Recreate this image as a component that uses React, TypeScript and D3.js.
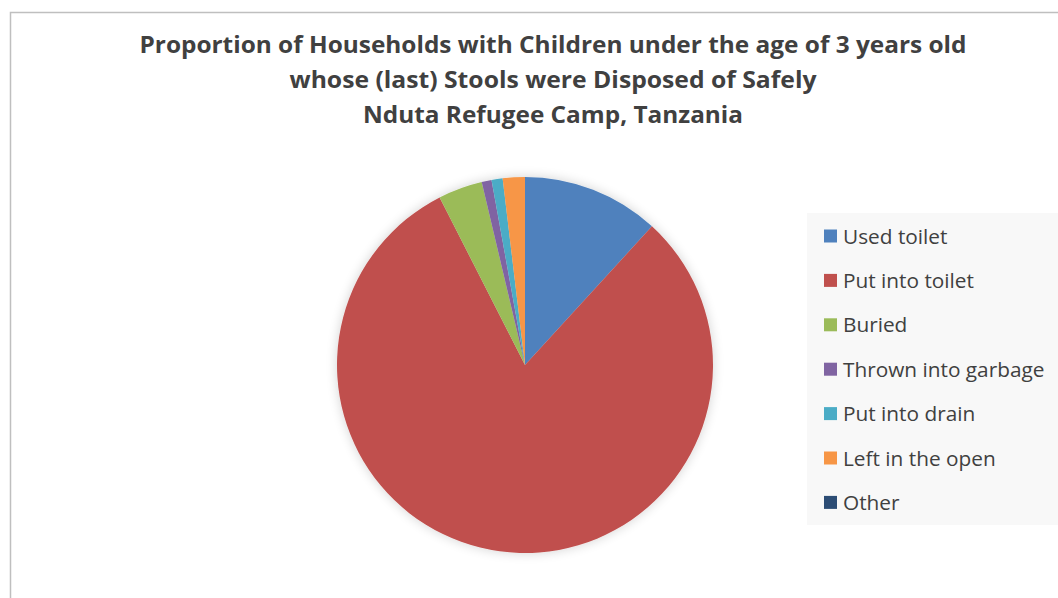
import React from "react";
import * as d3 from "d3";

const categories = [
  "Used toilet",
  "Put into toilet",
  "Buried",
  "Thrown into garbage",
  "Put into drain",
  "Left in the open",
  "Other",
];
const values = [11.8, 80.7, 3.8, 0.85, 0.95, 1.9, 0];
const colors = ["#4f81bd", "#c0504d", "#9bbb59", "#8064a2", "#4bacc6", "#f79646", "#2c4d75"];
const titleLines = [
  "Proportion of Households with Children under the age of 3 years old",
  "whose (last) Stools were Disposed of Safely",
  "Nduta Refugee Camp, Tanzania",
];
const titleWidths = [827, 527, 380];

export default function App() {
  const W = 1058;
  const H = 598;
  const cx = 525;
  const cy = 365;
  const r = 188;
  const pie = d3.pie<number>().sort(null).value((d) => d)(values);
  const arc = d3.arc<d3.PieArcDatum<number>>().innerRadius(0).outerRadius(r);
  const font = "'Open Sans', sans-serif";
  return (
    <svg
      width={W}
      height={H}
      style={{ position: "absolute", left: 0, top: 0, display: "block" }}
    >
      <defs>
        <filter id="glow" x="-30%" y="-30%" width="160%" height="160%">
          <feGaussianBlur in="SourceAlpha" stdDeviation="6" />
          <feComponentTransfer>
            <feFuncA type="linear" slope="0.18" />
          </feComponentTransfer>
          <feMerge>
            <feMergeNode />
            <feMergeNode in="SourceGraphic" />
          </feMerge>
        </filter>
      </defs>
      <rect x={0} y={0} width={W} height={H} fill="#ffffff" />
      <rect x={10.5} y={12.5} width={W + 20} height={H + 20} fill="#ffffff" stroke="#bfbfbf" strokeWidth={1.5} />
      {titleLines.map((t, i) => (
        <text
          key={i}
          x={553}
          y={53 + i * 35}
          textAnchor="middle"
          fontFamily={font}
          fontWeight={700}
          fontSize={23.5}
          fill="#404040"
          textLength={titleWidths[i]}
          lengthAdjust="spacingAndGlyphs"
        >
          {t}
        </text>
      ))}
      <g transform={`translate(${cx},${cy})`} filter="url(#glow)">
        {pie.map((p, i) => (
          <path key={i} d={arc(p) || ""} fill={colors[i]} />
        ))}
      </g>
      <rect x={807} y={213} width={260} height={312} fill="#f8f8f8" />
      {categories.map((c, i) => {
        const y = 236 + i * 44.4;
        return (
          <g key={c}>
            <rect x={824} y={y - 6.5} width={13} height={13} fill={colors[i]} />
            <text x={843} y={y + 7.5} fontFamily={font} fontSize={20.8} fill="#404040">
              {c}
            </text>
          </g>
        );
      })}
    </svg>
  );
}
